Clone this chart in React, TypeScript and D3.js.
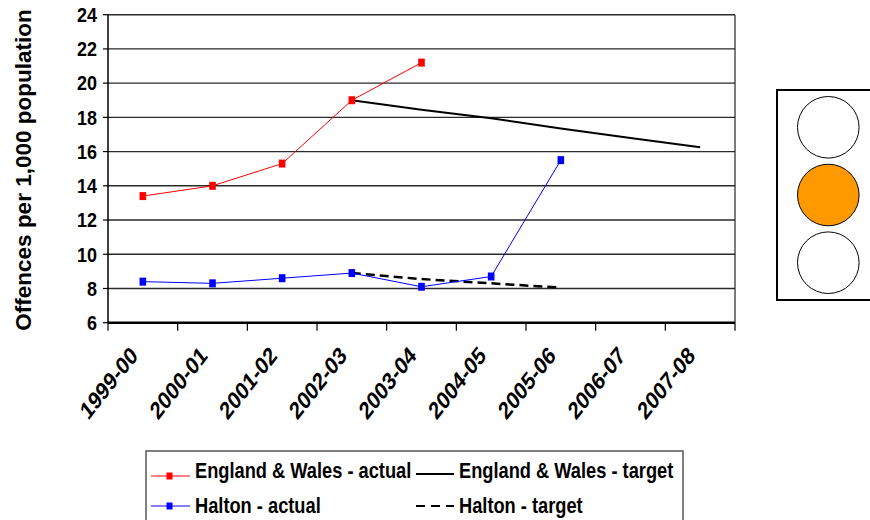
import React from "react";
import * as d3 from "d3";

const categories = ["1999-00", "2000-01", "2001-02", "2002-03", "2003-04", "2004-05", "2005-06", "2006-07", "2007-08"];
const ewActual: (number | null)[] = [13.4, 14.0, 15.3, 19.0, 21.2, null, null, null, null];
const ewTarget: (number | null)[] = [null, null, null, 19.0, 18.45, 17.95, 17.35, 16.8, 16.25];
const haltonActual: (number | null)[] = [8.4, 8.3, 8.6, 8.9, 8.1, 8.7, 15.5, null, null];
const haltonTarget: (number | null)[] = [null, null, null, 8.9, 8.55, 8.3, 8.05, null, null];
const yTicks = [6, 8, 10, 12, 14, 16, 18, 20, 22, 24];
const legendLabels = ["England & Wales - actual", "England & Wales - target", "Halton - actual", "Halton - target"];
const lightColors = ["#ffffff", "#ff9900", "#ffffff"];

const FONT = "'Liberation Sans', Arial, Helvetica, sans-serif";

export default function App() {
  const left = 108, right = 735, top = 14.7, bottom = 322.7;
  const x = d3.scaleBand<string>().domain(categories).range([left, right]);
  const y = d3.scaleLinear().domain([6, 24]).range([bottom, top]);
  const cx = (i: number) => (x(categories[i]) as number) + x.bandwidth() / 2;
  const line = d3
    .line<number | null>()
    .defined((d) => d !== null)
    .x((_, i) => cx(i))
    .y((d) => y(d as number));

  const markers = (vals: (number | null)[], color: string) =>
    vals.map((v, i) =>
      v === null ? null : (
        <rect key={i} x={cx(i) - 3.3} y={y(v) - 4} width={6.6} height={8} fill={color} />
      )
    );

  const tickBoundaries = categories.map((c) => x(c) as number).concat([right]);

  return (
    <svg width={870} height={520} style={{ position: "absolute", left: 0, top: 0, background: "#fff" }}>
      {/* gridlines */}
      {yTicks.filter((t) => t > 6).map((t) => (
        <line key={t} x1={left} x2={right} y1={y(t)} y2={y(t)} stroke="#2a2a2a" strokeWidth={1.4} />
      ))}
      {/* right border */}
      <line x1={right} x2={right} y1={top} y2={bottom} stroke="#222" strokeWidth={1.2} />
      {/* y axis */}
      <line x1={left} x2={left} y1={top} y2={bottom} stroke="#000" strokeWidth={1.5} />
      {yTicks.map((t) => (
        <g key={t}>
          <line x1={left - 5} x2={left} y1={y(t)} y2={y(t)} stroke="#000" strokeWidth={1.2} />
          <text
            x={97}
            y={y(t)}
            dy="0.36em"
            textAnchor="end"
            fontFamily={FONT}
            fontWeight="bold"
            fontSize={18}
            transform={`translate(${97},${y(t)}) scale(1,1.12) translate(${-97},${-y(t)})`}
          >
            {t}
          </text>
        </g>
      ))}
      {/* x axis */}
      <line x1={left} x2={right} y1={bottom} y2={bottom} stroke="#000" strokeWidth={2.6} />
      {tickBoundaries.map((b, i) => (
        <line key={i} x1={b} x2={b} y1={bottom} y2={bottom + 8} stroke="#000" strokeWidth={1.2} />
      ))}
      {categories.map((c, i) => (
        <text
          key={c}
          transform={`translate(${cx(i) - 4},${357}) scale(1,1.26) rotate(-45)`}
          textAnchor="end"
          fontFamily={FONT}
          fontWeight="bold"
          fontSize={19.5}
        >
          {c}
        </text>
      ))}
      {/* y title */}
      <text
        transform={`translate(31,170) rotate(-90)`}
        textAnchor="middle"
        fontFamily={FONT}
        fontWeight="bold"
        fontSize={22.5}
      >
        Offences per 1,000 population
      </text>

      {/* series */}
      <path d={line(ewTarget) || ""} fill="none" stroke="#000" strokeWidth={2} />
      <path d={line(haltonTarget) || ""} fill="none" stroke="#000" strokeWidth={2.5} strokeDasharray="9,5" />
      <path d={line(ewActual) || ""} fill="none" stroke="#ff0000" strokeWidth={1} />
      {markers(ewActual, "#ff0000")}
      <path d={line(haltonActual) || ""} fill="none" stroke="#0000ff" strokeWidth={1} />
      {markers(haltonActual, "#0000ff")}

      {/* traffic light */}
      <rect x={777} y={90} width={95} height={210} fill="#fff" stroke="#000" strokeWidth={2} />
      {lightColors.map((col, i) => (
        <circle key={i} cx={828.3} cy={127.3 + i * 67.7} r={30.8} fill={col} stroke="#000" strokeWidth={1} />
      ))}

      {/* legend */}
      <rect x={146} y={451} width={537} height={80} fill="#fff" stroke="#555" strokeWidth={1.5} />
      {[0, 1, 2, 3].map((k) => {
        const col = k % 2 === 0 ? 0 : 1;
        const row = k < 2 ? 0 : 1;
        const lx = col === 0 ? 151 : 416;
        const ly = row === 0 ? 476 : 506;
        const tx = col === 0 ? 195 : 459;
        const by = row === 0 ? 478 : 513;
        const label = legendLabels[k];
        let sample: React.ReactNode = null;
        if (k === 0 || k === 2) {
          const c = k === 0 ? "#ff0000" : "#0000ff";
          sample = (
            <g>
              <line x1={lx} x2={lx + 39} y1={ly} y2={ly} stroke={c} strokeWidth={1} />
              <rect x={lx + 18.5 - 3} y={ly - 3.5} width={6} height={7} fill={c} />
            </g>
          );
        } else if (k === 1) {
          sample = <line x1={lx} x2={lx + 38} y1={ly - 2} y2={ly - 2} stroke="#000" strokeWidth={2} />;
        } else {
          sample = <line x1={lx} x2={lx + 38} y1={ly} y2={ly} stroke="#000" strokeWidth={2} strokeDasharray="9,6" />;
        }
        return (
          <g key={k}>
            {sample}
            <text
              transform={`translate(${tx},${by}) scale(0.83,1)`}
              fontFamily={FONT}
              fontWeight="bold"
              fontSize={22}
            >
              {label}
            </text>
          </g>
        );
      })}
    </svg>
  );
}
